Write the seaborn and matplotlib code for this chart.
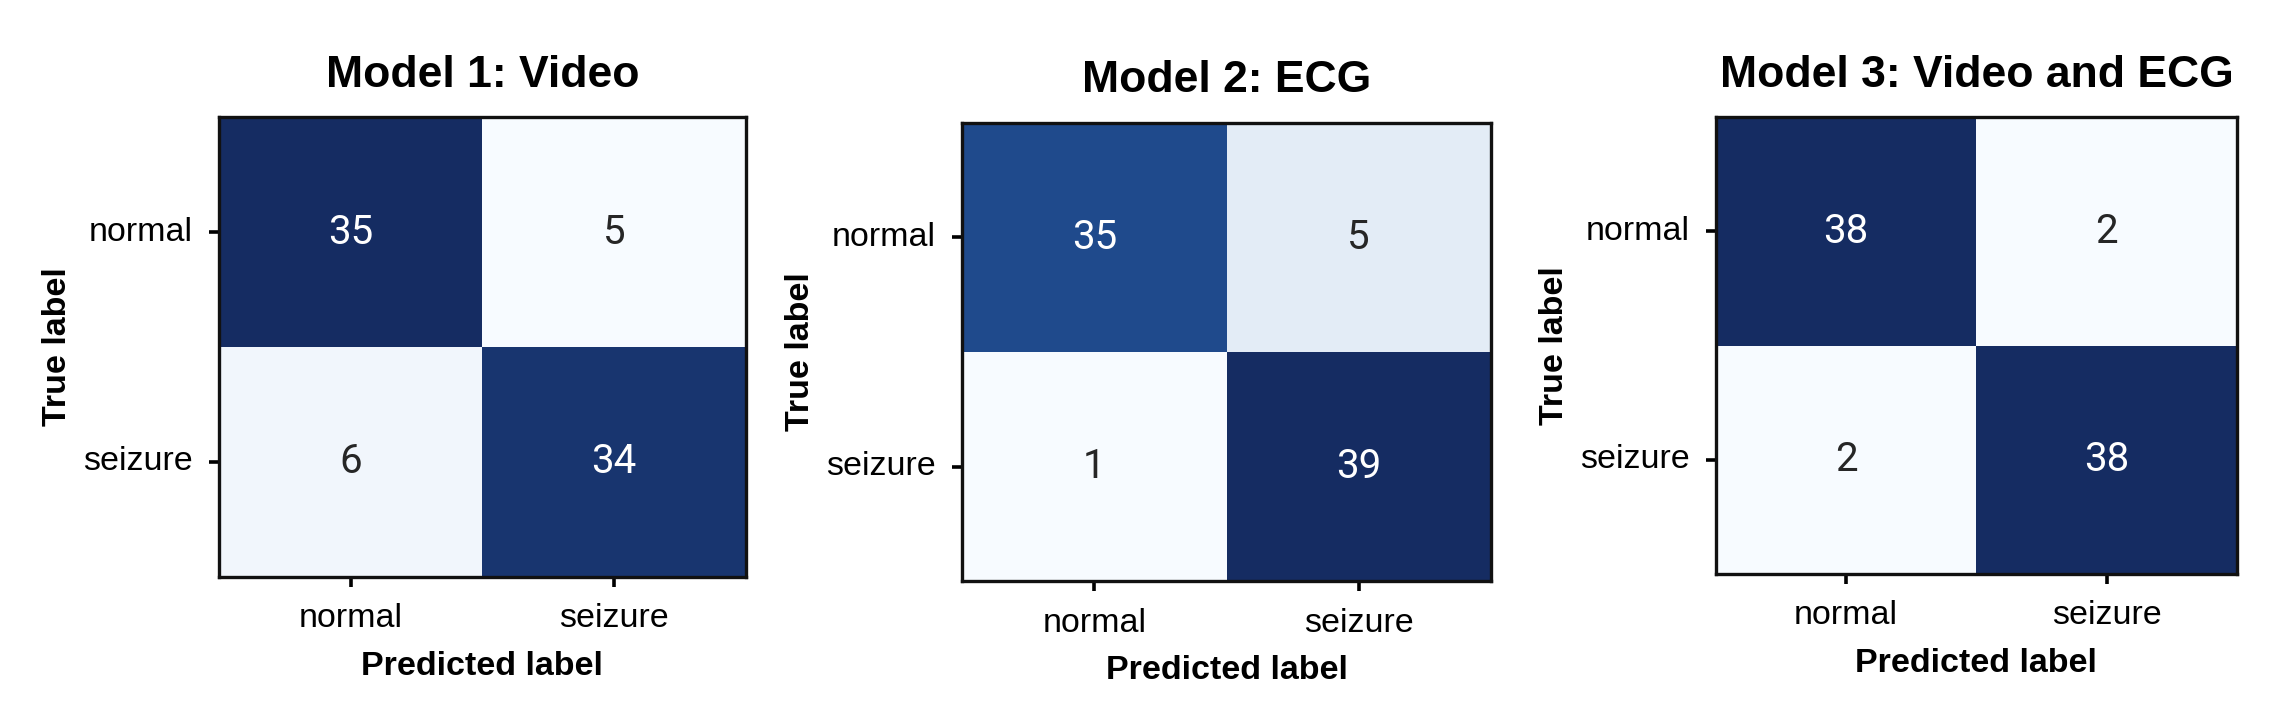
import matplotlib
matplotlib.use("Agg")
import matplotlib.pyplot as plt
import seaborn as sns
from matplotlib.colors import LinearSegmentedColormap

# data: confusion matrices (rows = true label, cols = predicted label)
class_labels = ["normal", "seizure"]
titles = ["Model 1: Video", "Model 2: ECG", "Model 3: Video and ECG"]
cm_video = [[35, 5], [6, 34]]
cm_ecg = [[35, 5], [1, 39]]
cm_video_ecg = [[38, 2], [2, 38]]
matrices = [cm_video, cm_ecg, cm_video_ecg]

sns.set_theme(style="ticks")
plt.rcParams['font.family'] = ['Liberation Sans', 'DejaVu Sans']
plt.rcParams['text.color'] = 'black'
plt.rcParams['axes.labelcolor'] = 'black'
plt.rcParams['xtick.color'] = 'black'
plt.rcParams['ytick.color'] = 'black'

# blues, a bit more navy at the dark end
cmap = LinearSegmentedColormap.from_list(
    "navy_blues",
    [(0.0, "#f7fbff"), (0.1, "#e3ecf6"), (0.5, "#7ea6d2"), (0.9, "#1f4a8c"), (1.0, "#152c62")],
)

fig = plt.figure(figsize=(22.9, 7.14), dpi=100)

# axes boxes [left, bottom, width, height] in figure fractions
boxes = [
    [0.0956, 0.192, 0.230, 0.644],
    [0.4201, 0.186, 0.231, 0.642],
    [0.7493, 0.196, 0.2275, 0.640],
]

for cm, title, box in zip(matrices, titles, boxes):
    ax = fig.add_axes(box)
    sns.heatmap(cm, annot=True, fmt='d', cmap=cmap, cbar=False,
                xticklabels=class_labels, yticklabels=class_labels, ax=ax,
                annot_kws={'fontsize': 29, 'family': 'Roboto'})
    for sp in ax.spines.values():
        sp.set_visible(True)
        sp.set_linewidth(2.4)
        sp.set_color('#111111')
    ax.tick_params(axis='both', length=7, width=2.6, color='black', pad=12,
                   labelsize=24.5, labelcolor='black', bottom=True, left=True)
    plt.setp(ax.get_yticklabels(), rotation=0, va='center')
    plt.setp(ax.get_xticklabels(), rotation=0)
    ax.set_title(title, fontsize=32, fontweight='bold', pad=22, color='black')
    ax.set_xlabel('Predicted label', fontsize=24.5, fontweight='bold', labelpad=12)
    ax.set_ylabel('True label', fontsize=24.5, fontweight='bold', labelpad=7)

fig.savefig("out.png", dpi=100, facecolor='white')
